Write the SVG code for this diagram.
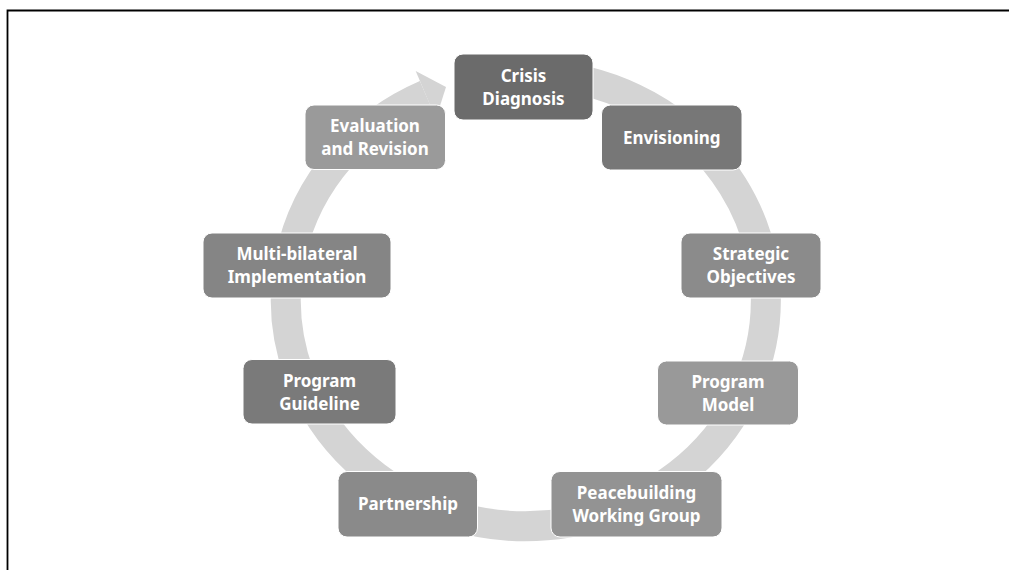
<svg xmlns="http://www.w3.org/2000/svg" width="1009" height="570" viewBox="0 0 1009 570">
<style>
.box{stroke:#ffffff;stroke-width:1}
.t{font-family:"Noto Sans","Open Sans",sans-serif;font-weight:bold;font-size:17px;fill:#ffffff;text-anchor:middle}
.ring{fill:none;stroke:#d4d4d4;stroke-width:30}
</style>
<rect width="1009" height="570" fill="#ffffff"/>
<path d="M7.5 570 V10.5 H1009" fill="none" stroke="#000000" stroke-width="1.8"/>
<g id="connectors">
<path class="ring" d="M544.4 74.9 A240 226 0 1 1 425.8 94.8"/>
<polygon points="415.7,70.9 446,87 435.9,118.7" fill="#d4d4d4"/>
</g>
<g id="crisis"><rect class="box" x="454" y="54" width="139" height="66" rx="9" fill="#6b6b6b"/><text class="t" x="523.5" y="82">Crisis</text><text class="t" x="523.5" y="105">Diagnosis</text></g>
<g id="envisioning"><rect class="box" x="601.5" y="105" width="140.5" height="65" rx="9" fill="#777777"/><text class="t" x="671.75" y="143.5">Envisioning</text></g>
<g id="strategic"><rect class="box" x="681" y="233" width="140" height="65" rx="9" fill="#8b8b8b"/><text class="t" x="751" y="260">Strategic</text><text class="t" x="751" y="283">Objectives</text></g>
<g id="model"><rect class="box" x="657.5" y="361" width="141" height="64" rx="9" fill="#999999"/><text class="t" x="728" y="387.5">Program</text><text class="t" x="728" y="410.5">Model</text></g>
<g id="peacebuilding"><rect class="box" x="551" y="471.5" width="171" height="65.5" rx="9" fill="#939393"/><text class="t" x="636.5" y="498.5">Peacebuilding</text><text class="t" x="636.5" y="521.5">Working Group</text></g>
<g id="partnership"><rect class="box" x="338" y="471.5" width="139.5" height="65.5" rx="9" fill="#8a8a8a"/><text class="t" x="408" y="510">Partnership</text></g>
<g id="guideline"><rect class="box" x="243" y="359.5" width="153" height="64.5" rx="9" fill="#7a7a7a"/><text class="t" x="319.5" y="386.5">Program</text><text class="t" x="319.5" y="409.5">Guideline</text></g>
<g id="multi"><rect class="box" x="203" y="233" width="188" height="65" rx="9" fill="#858585"/><text class="t" x="297" y="260">Multi-bilateral</text><text class="t" x="297" y="283">Implementation</text></g>
<g id="evaluation"><rect class="box" x="305" y="105" width="140.5" height="64.5" rx="9" fill="#9a9a9a"/><text class="t" x="375" y="131.5">Evaluation</text><text class="t" x="375" y="155">and Revision</text></g>
</svg>
